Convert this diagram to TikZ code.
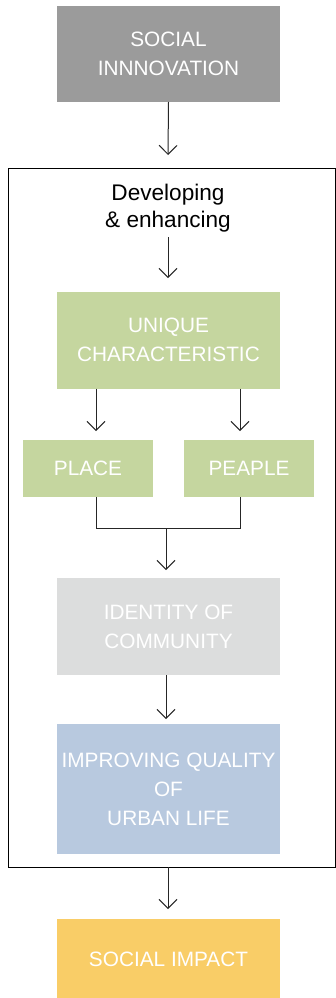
\documentclass[tikz,border=0pt]{standalone}
\usepackage{fontspec}
\setmainfont{Liberation Sans}
\usetikzlibrary{arrows.meta}
\definecolor{cgray}{HTML}{9B9B9B}
\definecolor{cgreen}{HTML}{C5D69F}
\definecolor{clight}{HTML}{DCDDDD}
\definecolor{cblue}{HTML}{B8C9DF}
\definecolor{corange}{HTML}{F9CD67}
\begin{document}
\begin{tikzpicture}[x=1pt,y=-1pt,
  box/.style={fill=#1, text=white, inner sep=0pt, outer sep=0pt, anchor=north west,
    align=center, font=\fontsize{20.8}{29}\selectfont},
  arr/.style={-{Straight Barb[length=9pt,width=18pt]}, line width=1pt, draw=black!85},
  conn/.style={line width=1pt, draw=black!85},
  framebox/.style={draw=black, line width=1pt, inner sep=0pt, outer sep=0pt, anchor=north west}]
\useasboundingbox (0,0) rectangle (336,998);
% outer frame
\node[framebox, minimum width=327pt, minimum height=699pt] (frame) at (8,168) {};
% boxes
\node[box=cgray, minimum width=223pt, minimum height=96pt] (si) at (57,6) {SOCIAL\\INNNOVATION};
\node[font=\fontsize{22.6}{27.6}\selectfont, align=center, inner sep=0pt] (dev) at (168,208) {Developing\\\& enhancing};
\node[box=cgreen, minimum width=223pt, minimum height=96.5pt] (uc) at (57,292) {UNIQUE\\CHARACTERISTIC};
\node[box=cgreen, minimum width=130pt, minimum height=57pt] (pl) at (23,440) {PLACE};
\node[box=cgreen, minimum width=130pt, minimum height=57pt] (pe) at (184,440) {PEAPLE};
\node[box=clight, minimum width=223pt, minimum height=97pt] (id) at (57,578) {IDENTITY OF\\COMMUNITY};
\node[box=cblue, minimum width=223pt, minimum height=130pt] (iq) at (57,724) {IMPROVING QUALITY\\OF\\URBAN LIFE};
\node[box=corange, minimum width=223pt, minimum height=80pt] (imp) at (57,919) {SOCIAL IMPACT};
% connector end points
\coordinate (t1) at (168,155);
\coordinate (s2) at (168,237);
\coordinate (t2) at (168,278);
\coordinate (t3) at (96,431);
\coordinate (t4) at (240,431);
\coordinate (j) at (166,528);
\coordinate (t5) at (166,570);
\coordinate (t6) at (166,719);
\coordinate (t7) at (168,909);
% connectors
\draw[arr] (si.south) -- (t1);
\draw[arr] (s2) -- (t2);
\draw[arr] (uc.south -| t3) -- (t3);
\draw[arr] (uc.south -| t4) -- (t4);
\draw[conn] (pl.south -| t3) -- (t3 |- j) -- (t4 |- j) -- (pe.south -| t4);
\draw[arr] (j) -- (t5);
\draw[arr] (id.south -| t6) -- (t6);
\draw[arr] (frame.south -| t7) -- (t7);
\end{tikzpicture}
\end{document}
